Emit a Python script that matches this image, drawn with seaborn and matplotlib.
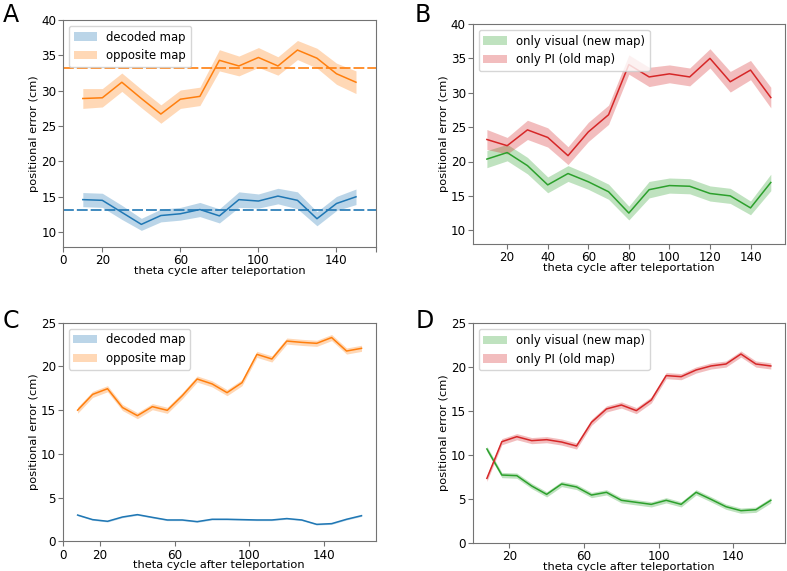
import numpy as np
import matplotlib
matplotlib.use("Agg")
import matplotlib.pyplot as plt
import seaborn as sns

# ---- data ----
# panels A/B: theta cycles 10..150
X_AB = [10, 20, 30, 40, 50, 60, 70, 80, 90, 100, 110, 120, 130, 140, 150]

A_DECODED = [14.6, 14.5, 12.8, 11.1, 12.35, 12.6, 13.2, 12.3, 14.6, 14.4, 15.1, 14.5, 11.9, 14.05, 15.0]
A_DECODED_ERR = [1.0, 1.0, 1.0, 0.85, 0.9, 0.9, 1.0, 1.0, 1.1, 1.0, 1.1, 1.2, 1.0, 1.0, 1.1]
A_OPPOSITE = [28.9, 29.0, 31.2, 28.9, 26.7, 28.8, 29.2, 34.3, 33.5, 34.7, 33.5, 35.75, 34.6, 32.4, 31.2]
A_OPPOSITE_ERR = [1.4, 1.3, 1.3, 1.3, 1.3, 1.3, 1.3, 1.5, 1.4, 1.4, 1.3, 1.35, 1.4, 1.5, 1.6]
A_DECODED_MEAN = 13.07
A_OPPOSITE_MEAN = 33.16

B_VISUAL = [20.35, 21.3, 19.4, 16.6, 18.25, 17.05, 15.6, 12.5, 15.9, 16.5, 16.4, 15.35, 15.0, 13.25, 16.95]
B_VISUAL_ERR = [1.25, 1.2, 1.2, 1.15, 1.15, 1.1, 1.1, 1.0, 1.2, 1.1, 1.1, 1.1, 1.1, 1.0, 1.2]
B_PI = [23.2, 22.3, 24.6, 23.5, 20.85, 24.3, 26.8, 34.1, 32.3, 32.75, 32.3, 35.0, 31.6, 33.3, 29.3]
B_PI_ERR = [1.45, 1.2, 1.4, 1.4, 1.3, 1.4, 1.4, 1.4, 1.4, 1.3, 1.3, 1.4, 1.5, 1.4, 1.5]

# panels C/D: theta cycles 8..160
X_CD = [8, 16, 24, 32, 40, 48, 56, 64, 72, 80, 88, 96, 104, 112, 120, 128, 136, 144, 152, 160]

C_DECODED = [3.0, 2.48, 2.29, 2.78, 3.05, 2.74, 2.44, 2.44, 2.25, 2.52,
             2.52, 2.48, 2.44, 2.44, 2.6, 2.44, 1.94, 2.02, 2.52, 2.93]
C_DECODED_ERR = [0.08] * 20
C_OPPOSITE = [15.0, 16.8, 17.45, 15.3, 14.37, 15.4, 14.98, 16.65, 18.56, 18.0,
              17.0, 18.14, 21.38, 20.85, 22.9, 22.75, 22.64, 23.3, 21.76, 22.07]
C_OPPOSITE_ERR = [0.35] * 20

D_VISUAL = [10.68, 7.71, 7.64, 6.46, 5.51, 6.69, 6.35, 5.43, 5.74, 4.83,
            4.6, 4.37, 4.83, 4.37, 5.74, 4.94, 4.1, 3.65, 3.76, 4.83]
D_VISUAL_ERR = [0.3] * 20
D_PI = [7.33, 11.51, 12.08, 11.63, 11.74, 11.47, 11.02, 13.72, 15.24, 15.69,
        15.05, 16.26, 19.04, 18.92, 19.68, 20.14, 20.36, 21.5, 20.36, 20.14]
D_PI_ERR = [0.35] * 20

C_BLUE, C_ORANGE, C_GREEN, C_RED = "#1f77b4", "#ff7f0e", "#2ca02c", "#d62728"

plt.rcParams.update({
    "font.family": "DejaVu Sans",
    "font.size": 8.2,
    "axes.edgecolor": "0.45",
    "axes.linewidth": 0.8,
    "xtick.color": "0.45",
    "ytick.color": "0.45",
    "xtick.labelcolor": "black",
    "ytick.labelcolor": "black",
    "xtick.labelsize": 8.6,
    "ytick.labelsize": 8.6,
    "xtick.major.pad": 1.8,
    "ytick.major.pad": 1.5,
})

W, H = 787, 571
fig = plt.figure(figsize=(W / 100, H / 100), dpi=100)


def px_axes(left, top, right, bottom):
    return fig.add_axes([left / W, 1 - bottom / H, (right - left) / W, (bottom - top) / H])


def band(ax, x, y, err, color, label):
    y = np.asarray(y)
    err = np.asarray(err)
    ax.fill_between(x, y - err, y + err, color=color, alpha=0.3, linewidth=0, label=label)
    sns.lineplot(x=x, y=y, color=color, linewidth=1.1, ax=ax, legend=False)


def finish(ax):
    ax.set_xlabel("theta cycle after teleportation", labelpad=-1)
    ax.set_ylabel("positional error (cm)", labelpad=1.5)
    ax.legend(loc="upper left", fontsize=8.4)


axA = px_axes(63.3, 20, 375.5, 247)
band(axA, X_AB, A_DECODED, A_DECODED_ERR, C_BLUE, "decoded map")
band(axA, X_AB, A_OPPOSITE, A_OPPOSITE_ERR, C_ORANGE, "opposite map")
axA.axhline(A_DECODED_MEAN, color=C_BLUE, lw=1.2, ls=(0, (6.5, 1.8)))
axA.axhline(A_OPPOSITE_MEAN, color=C_ORANGE, lw=1.2, ls=(0, (6.5, 1.8)))
axA.set_xticks([0, 20, 60, 100, 140, 160], ["0", "20", "60", "100", "140", ""])
axA.set_xlim(0, 160)
axA.set_ylim(7.9, 40)
axA.set_yticks([10, 15, 20, 25, 30, 35, 40])
finish(axA)

axB = px_axes(472.7, 24, 785, 244)
band(axB, X_AB, B_VISUAL, B_VISUAL_ERR, C_GREEN, "only visual (new map)")
band(axB, X_AB, B_PI, B_PI_ERR, C_RED, "only PI (old map)")
axB.set_xticks([20, 40, 60, 80, 100, 120, 140])
axB.set_xlim(3, 157)
axB.set_ylim(8, 40)
axB.set_yticks([10, 15, 20, 25, 30, 35, 40])
finish(axB)

axC = px_axes(62.7, 322.7, 375.7, 541.3)
band(axC, X_CD, C_DECODED, C_DECODED_ERR, C_BLUE, "decoded map")
band(axC, X_CD, C_OPPOSITE, C_OPPOSITE_ERR, C_ORANGE, "opposite map")
axC.set_xticks([0, 20, 60, 100, 140])
axC.set_xlim(0, 167.6)
axC.set_ylim(0, 25)
axC.set_yticks([0, 5, 10, 15, 20, 25])
finish(axC)

axD = px_axes(472.7, 323.3, 785, 542.7)
band(axD, X_CD, D_VISUAL, D_VISUAL_ERR, C_GREEN, "only visual (new map)")
band(axD, X_CD, D_PI, D_PI_ERR, C_RED, "only PI (old map)")
axD.set_xticks([20, 60, 100, 140])
axD.set_xlim(0.4, 167.6)
axD.set_ylim(0, 25)
axD.set_yticks([0, 5, 10, 15, 20, 25])
finish(axD)

for letter, x, y in [("A", 3, 22), ("B", 415, 22), ("C", 3, 328), ("D", 416, 328)]:
    fig.text(x / W, 1 - y / H, letter, fontsize=17, va="baseline", ha="left")

fig.savefig("out.png", dpi=100)
